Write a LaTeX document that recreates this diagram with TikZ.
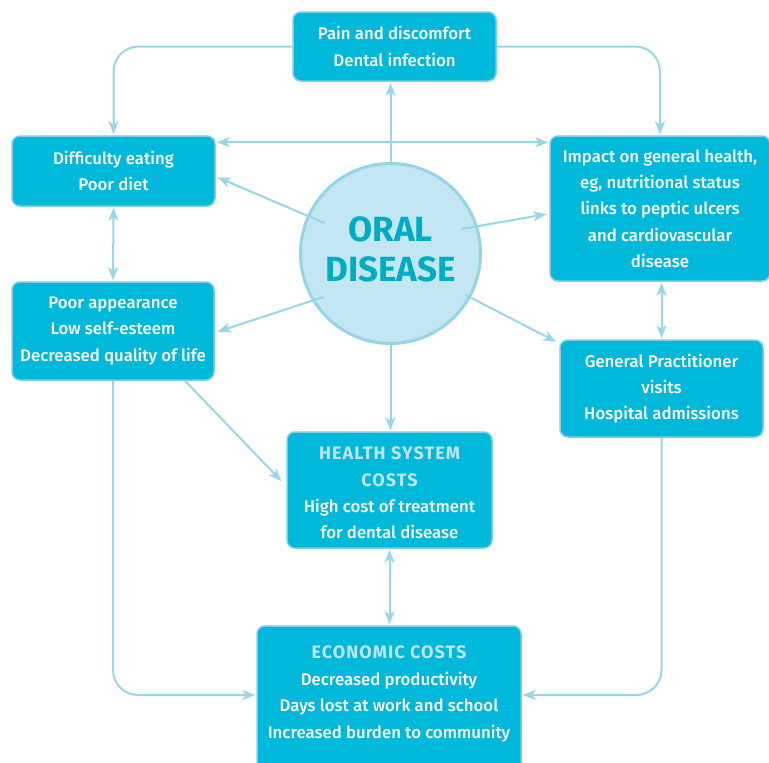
\documentclass[tikz,border=0pt]{standalone}
\usepackage{fontspec}
\IfFontExistsTF{Fira Sans Medium}
  {\setmainfont{Fira Sans Medium}[BoldFont={Fira Sans Bold}]}
  {\setmainfont{Fira Sans}}
\usetikzlibrary{arrows.meta,calc}
\definecolor{boxfill}{RGB}{0,184,217}
\definecolor{boxedge}{RGB}{125,206,230}
\definecolor{lineblue}{RGB}{153,214,232}
\definecolor{circfill}{RGB}{194,230,242}
\definecolor{circedge}{RGB}{150,212,232}
\definecolor{oraltext}{RGB}{0,172,196}
\definecolor{headtext}{RGB}{192,228,240}
\newcommand{\hd}[1]{{\color{headtext}\fontsize{18}{26}\selectfont\bfseries\addfontfeature{LetterSpace=6}#1}}
\begin{document}
\begin{tikzpicture}[x=1pt,y=-1pt,
  box/.style={draw=boxedge, line width=1.5pt, fill=boxfill, rounded corners=8pt,
    text=white, align=center, inner sep=0pt, font=\fontsize{16.8}{26.3}\selectfont},
  conn/.style={draw=lineblue, line width=2pt, shorten >=1pt,
    -{Stealth[length=13pt,width=10pt,inset=3.5pt]}},
  dconn/.style={draw=lineblue, line width=2pt, shorten >=1pt, shorten <=1pt,
    {Stealth[length=13pt,width=10pt,inset=3.5pt]}-{Stealth[length=13pt,width=10pt,inset=3.5pt]}}
]
\useasboundingbox (0,0) rectangle (769,763);

% central circle
\node[circle, fill=circfill, draw=circedge, line width=3pt, minimum size=180pt,
  inner sep=0pt, text=oraltext, align=center,
  font=\fontsize{35}{40}\selectfont\bfseries] (circ) at (390.5,253.5) {ORAL\\DISEASE\\[-32pt]};

% boxes
\node[box, minimum width=203pt, minimum height=69pt] (pain) at (394.5,46.5)
  {Pain and discomfort\\Dental infection};
\node[box, minimum width=203pt, minimum height=70pt] (diff) at (113.5,171)
  {Difficulty eating\\Poor diet};
\node[box, minimum width=220pt, minimum height=145pt] (impact) at (660,208.5)
  {Impact on general health,\\eg, nutritional status\\links to peptic ulcers\\and cardiovascular\\disease};
\node[box, minimum width=202pt, minimum height=98pt] (poor) at (113,331)
  {Poor appearance\\Low self-esteem\\Decreased quality of life};
\node[box, minimum width=203pt, minimum height=97pt] (gp) at (661.5,388.5)
  {General Practitioner\\visits\\Hospital admissions};
\node[box, minimum width=205pt, minimum height=116pt] (health) at (389.5,490)
  {\hd{HEALTH SYSTEM}\\\hd{COSTS}\\High cost of treatment\\for dental disease\\[-32pt]};
\node[box, minimum width=264pt, minimum height=150pt] (econ) at (389,701)
  {\hd{ECONOMIC COSTS}\\[1pt]Decreased productivity\\Days lost at work and school\\Increased burden to community\\[-8pt]};

% connectors
\draw[conn] (circ.north) -- (circ.north |- pain.south);
\draw[conn] (circ.south) -- (circ.south |- health.north);
\draw[dconn] ($(diff.north east)+(0,7)$) -- ($(impact.north west)+(0,7)$);
\draw[conn] ($(circ.center)+(-66,-30.5)$) -- ($(diff.east)+(1,6)$);
\draw[conn] ($(circ.center)+(-67,43.5)$) -- ($(poor.east)+(2,1)$);
\draw[conn] ($(circ.center)+(71,-24.5)$) -- ($(impact.west)+(-2,5.5)$);
\draw[conn] ($(circ.center)+(75,41.5)$) -- ($(gp.north west)+(-2,3)$);
\draw[conn, rounded corners=25pt] (pain.west) -| (diff.north);
\draw[conn, rounded corners=25pt] (pain.east) -| (impact.north);
\draw[dconn] (diff.south) -- (poor.north);
\draw[dconn] (impact.south -| gp.north) -- (gp.north);
\draw[dconn] (health.south) -- (health.south |- econ.north);
\draw[conn, rounded corners=25pt] (poor.south) |- ($(econ.west)+(0,-6)$);
\draw[conn, rounded corners=25pt] (gp.south) |- ($(econ.east)+(0,-6)$);
\draw[conn] ($(poor.south)+(72,0)$) -- ($(health.west)+(-4,-8)$);
\end{tikzpicture}
\end{document}
